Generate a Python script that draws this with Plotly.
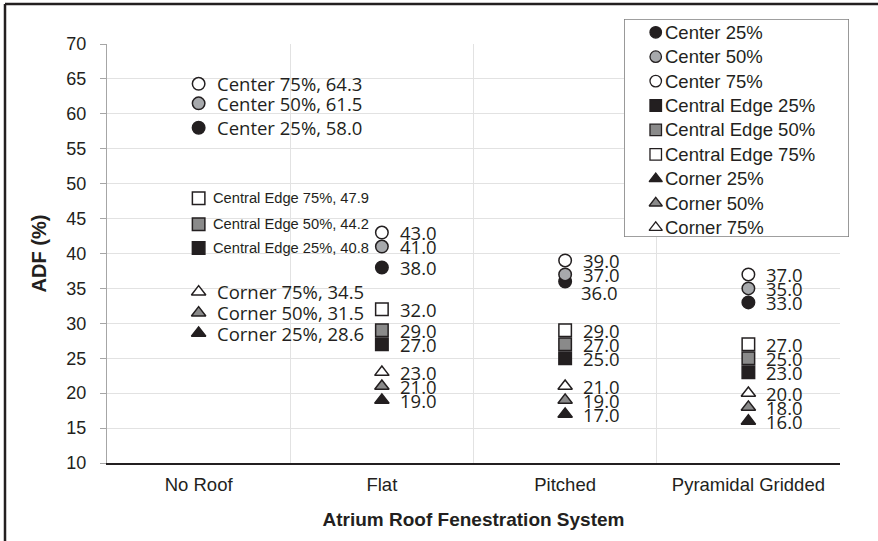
import plotly.graph_objects as go

# ---------------- data ----------------
categories = ["No Roof", "Flat", "Pitched", "Pyramidal Gridded"]
series_names = [
    "Center 25%", "Center 50%", "Center 75%",
    "Central Edge 25%", "Central Edge 50%", "Central Edge 75%",
    "Corner 25%", "Corner 50%", "Corner 75%",
]
center_25 = [58.0, 38.0, 36.0, 33.0]
center_50 = [61.5, 41.0, 37.0, 35.0]
center_75 = [64.3, 43.0, 39.0, 37.0]
central_edge_25 = [40.8, 27.0, 25.0, 23.0]
central_edge_50 = [44.2, 29.0, 27.0, 25.0]
central_edge_75 = [47.9, 32.0, 29.0, 27.0]
corner_25 = [28.6, 19.0, 17.0, 16.0]
corner_50 = [31.5, 21.0, 19.0, 18.0]
corner_75 = [34.5, 23.0, 21.0, 20.0]
y_tick_values = [10, 15, 20, 25, 30, 35, 40, 45, 50, 55, 60, 65, 70]
x_axis_title = "Atrium Roof Fenestration System"
y_axis_title = "ADF (%)"

series_values = [center_25, center_50, center_75,
                 central_edge_25, central_edge_50, central_edge_75,
                 corner_25, corner_50, corner_75]

# ---------------- styles ----------------
DARK = "#231f20"
GRID = "#e2e2e2"
AXIS_GREY = "#a6a6a6"
ARIAL = "Liberation Sans, Arial"
symbols = ["circle"] * 3 + ["square"] * 3 + ["triangle-up"] * 3
fills = [DARK, "#a7a9ac", "white",
         DARK, "#8a8a8a", "white",
         DARK, "#8a8a8a", "white"]
sizes = [12.5] * 9
legend_sizes = [11.5] * 9

LABEL_FONT = dict(family="Open Sans", size=18.5, color=DARK)
EDGE_FONT = dict(family=ARIAL, size=14.7, color=DARK)
LEGEND_FONT = dict(family=ARIAL, size=18.5, color=DARK)
# nudges (pixels) for specific labels: (series index, category index) -> (xshift, yshift)
label_nudge = {(0, 2): (-2, -11)}

W, H = 878, 541


def px_x(px):
    return px / W


def px_y(py):
    return (H - py) / H


# plot area and legend box, in pixels
PLOT_L, PLOT_R, PLOT_T, PLOT_B = 107, 840, 44, 463
LEG_L, LEG_R, LEG_T, LEG_B = 624, 849, 19, 237
LEG_ROW0, LEG_ROW_STEP = 13.3, 24.4  # first row centre from box top, row spacing
legend_marker_x = 0.141
leg_h = LEG_B - LEG_T
leg_range_top = -LEG_ROW0 / LEG_ROW_STEP
leg_range_bottom = leg_range_top + leg_h / LEG_ROW_STEP

fig = go.Figure()
for i, (name, vals) in enumerate(zip(series_names, series_values)):
    fig.add_trace(go.Scatter(
        x=categories, y=vals, mode="markers", name=name,
        marker=dict(symbol=symbols[i], size=sizes[i], color=fills[i],
                    line=dict(color=DARK, width=1.5)),
        cliponaxis=False, showlegend=False,
    ))

# legend markers drawn on their own small axes
for i, name in enumerate(series_names):
    fig.add_trace(go.Scatter(
        x=[legend_marker_x], y=[name], xaxis="x2", yaxis="y2",
        mode="markers", name=name, showlegend=False, hoverinfo="skip",
        marker=dict(symbol=symbols[i], size=legend_sizes[i], color=fills[i],
                    line=dict(color=DARK, width=1.3)),
        cliponaxis=False,
    ))

annotations = []
for i, (name, vals) in enumerate(zip(series_names, series_values)):
    for j, (cat, v) in enumerate(zip(categories, vals)):
        text = f"{name}, {v:.1f}" if j == 0 else f"{v:.1f}"
        is_edge_first = (j == 0 and name.startswith("Central Edge"))
        dx, dy = label_nudge.get((i, j), (0, 0))
        annotations.append(dict(
            x=cat, y=v, xref="x", yref="y", text=text, showarrow=False,
            xanchor="left", yanchor="middle",
            xshift=(12 if is_edge_first else 16) + dx, yshift=dy,
            font=EDGE_FONT if is_edge_first else LABEL_FONT,
        ))

for name in series_names:
    annotations.append(dict(
        x=legend_marker_x, y=name, xref="x2", yref="y2", text=name,
        showarrow=False, xanchor="left", yanchor="middle", xshift=7,
        font=LEGEND_FONT,
    ))

shapes = [
    # legend frame (drawn in the legend subplot, above the main grid)
    dict(type="rect", xref="x2", yref="y2", layer="below",
         x0=0, x1=1, y0=leg_range_top, y1=leg_range_bottom,
         fillcolor="white", line=dict(color="#808080", width=1.6)),
    # outer frame (top and left edges)
    dict(type="line", xref="paper", yref="paper",
         x0=px_x(5), x1=px_x(880), y0=px_y(4), y1=px_y(4),
         line=dict(color=DARK, width=2.5)),
    dict(type="line", xref="paper", yref="paper",
         x0=px_x(5), x1=px_x(5), y0=px_y(4), y1=px_y(545),
         line=dict(color=DARK, width=2.5)),
]

fig.update_layout(
    template="none",
    width=W, height=H,
    margin=dict(l=0, r=0, t=0, b=0, pad=0, autoexpand=False),
    paper_bgcolor="white", plot_bgcolor="white",
    font=dict(family=ARIAL, color=DARK),
    showlegend=False,
    annotations=annotations,
    shapes=shapes,
    xaxis=dict(
        domain=[px_x(PLOT_L), px_x(PLOT_R)], anchor="y", automargin=False,
        type="category", categoryorder="array", categoryarray=categories,
        range=[-0.5, len(categories) - 0.5],
        tickson="boundaries", ticks="",
        showgrid=True, gridcolor=GRID, gridwidth=1,
        showline=True, linecolor=DARK, linewidth=2,
        tickfont=dict(family=ARIAL, size=18.5, color=DARK),
        ticklabelstandoff=4,
        title=dict(text=f"<b>{x_axis_title}</b>", standoff=18,
                   font=dict(family=ARIAL, size=19, color=DARK)),
        fixedrange=True,
    ),
    yaxis=dict(
        domain=[px_y(PLOT_B), px_y(PLOT_T)], anchor="x", automargin=False,
        range=[10, 70], tickvals=y_tick_values,
        ticks="outside", ticklen=6, tickcolor=AXIS_GREY,
        showgrid=True, gridcolor=GRID, gridwidth=1, zeroline=False,
        showline=True, linecolor=AXIS_GREY, linewidth=1,
        tickfont=dict(family=ARIAL, size=18, color=DARK),
        ticklabelstandoff=10,
        title=dict(text=f"<b>{y_axis_title}</b>", standoff=14,
                   font=dict(family=ARIAL, size=20, color=DARK)),
        fixedrange=True,
    ),
    xaxis2=dict(
        domain=[px_x(LEG_L), px_x(LEG_R)], anchor="y2", automargin=False,
        range=[0, 1], visible=False, fixedrange=True,
    ),
    yaxis2=dict(
        domain=[px_y(LEG_B), px_y(LEG_T)], anchor="x2", automargin=False,
        type="category", categoryorder="array", categoryarray=series_names,
        range=[leg_range_bottom, leg_range_top], visible=False, fixedrange=True,
    ),
)

fig.write_html("out.html", config={"displayModeBar": False},
               post_script="document.body.style.margin='0';")
